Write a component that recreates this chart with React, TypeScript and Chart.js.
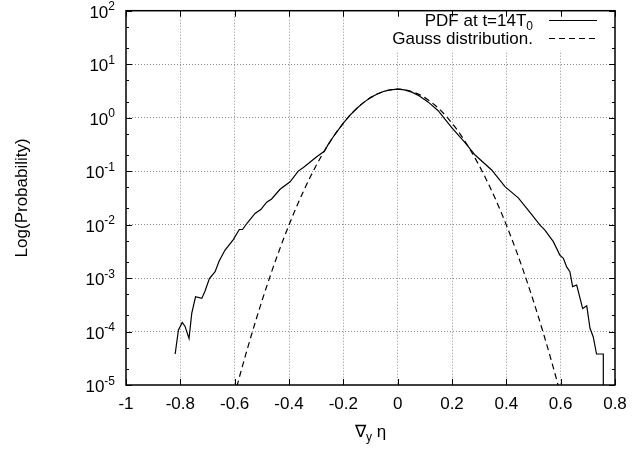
import React, { useEffect, useRef } from 'react';
import { Chart, registerables } from 'chart.js';

Chart.register(...registerables);

// ---- data ----
const pdfX = [
  -0.819, -0.807, -0.793, -0.783, -0.768, -0.758, -0.744, -0.721, -0.709, -0.693,
  -0.672, -0.657, -0.636, -0.605, -0.583, -0.571, -0.554, -0.525, -0.504, -0.482,
  -0.464, -0.433, -0.396, -0.366, -0.347, -0.298, -0.27, -0.255, -0.23, -0.2,
  -0.176, -0.15, -0.127, -0.1, -0.077, -0.05, -0.028, 0, 0.025, 0.052,
  0.08, 0.113, 0.149, 0.199, 0.248, 0.285, 0.346, 0.395, 0.444, 0.487,
  0.524, 0.542, 0.573, 0.597, 0.61, 0.622, 0.634, 0.644, 0.659, 0.681,
  0.696, 0.708, 0.72, 0.732, 0.757, 0.757,
];
const pdfY = [
  3.8e-5, 1.07e-4, 1.48e-4, 1.26e-4, 7.4e-5, 2.19e-4, 4.47e-4, 4.17e-4, 5.75e-4, 9.8e-4,
  1.32e-3, 2.09e-3, 3.31e-3, 5.25e-3, 8.1e-3, 8.1e-3, 1.07e-2, 1.62e-2, 1.91e-2, 2.63e-2,
  3.02e-2, 4.57e-2, 6.31e-2, 0.1, 0.117, 0.186, 0.235, 0.32, 0.494, 0.79,
  1.1, 1.5, 1.89, 2.37, 2.74, 3.11, 3.32, 3.4, 3.3, 3.0,
  2.55, 1.95, 1.35, 0.65, 0.34, 0.2, 0.105, 0.0513, 0.0316, 0.017,
  9.8e-3, 7.9e-3, 4.79e-3, 2.69e-3, 2.34e-3, 1.62e-3, 1.32e-3, 6.9e-4, 7.4e-4, 2.69e-4,
  3.02e-4, 1.15e-4, 7.9e-5, 3.8e-5, 3.8e-5, 1e-6,
];

const gaussX = [
  -0.62, -0.6, -0.58, -0.56, -0.54, -0.52, -0.5, -0.48, -0.46, -0.44, -0.42, -0.4,
  -0.38, -0.36, -0.34, -0.32, -0.3, -0.28, -0.26, -0.24, -0.22, -0.2, -0.18, -0.16,
  -0.14, -0.12, -0.1, -0.08, -0.06, -0.04, -0.02, 0, 0.02, 0.04, 0.06, 0.08, 0.1,
  0.12, 0.14, 0.16, 0.18, 0.2, 0.22, 0.24, 0.26, 0.28, 0.3, 0.32, 0.34, 0.36, 0.38,
  0.4, 0.42, 0.44, 0.46, 0.48, 0.5, 0.52, 0.54, 0.56, 0.58, 0.6, 0.62,
];
const gaussY = [
  2.7e-6, 6.6e-6, 1.57e-5, 3.62e-5, 8.07e-5, 1.75e-4, 3.69e-4, 7.55e-4, 1.5e-3, 2.895e-3, 5.43e-3, 9.88e-3,
  0.01747, 0.03, 0.05, 0.081, 0.1274, 0.1946, 0.2886, 0.416, 0.582, 0.791, 1.044, 1.339,
  1.667, 2.015, 2.367, 2.699, 2.99, 3.216, 3.361, 3.41, 3.361, 3.216, 2.99, 2.699, 2.367,
  2.015, 1.667, 1.339, 1.044, 0.791, 0.582, 0.416, 0.2886, 0.1946, 0.1274, 0.081, 0.05, 0.03, 0.01747,
  9.88e-3, 5.43e-3, 2.895e-3, 1.5e-3, 7.55e-4, 3.69e-4, 1.75e-4, 8.07e-5, 3.62e-5, 1.57e-5, 6.6e-6, 2.7e-6,
];

const xTicks = [-1, -0.8, -0.6, -0.4, -0.2, 0, 0.2, 0.4, 0.6, 0.8];
const xTickLabels = ['-1', '-0.8', '-0.6', '-0.4', '-0.2', '0', '0.2', '0.4', '0.6', '0.8'];
const yTicks = [1e-5, 1e-4, 1e-3, 1e-2, 1e-1, 1, 10, 100];
const yTickExponents = ['-5', '-4', '-3', '-2', '-1', '0', '1', '2'];
const yMinorTicks = [2e-5, 5e-5, 2e-4, 5e-4, 2e-3, 5e-3, 2e-2, 5e-2, 0.2, 0.5, 2, 5, 20, 50];
const seriesNames = ['PDF at t=14T', 'Gauss distribution.'];
const seriesSubscripts = ['0', ''];
const xTitle = ['\u2207', 'y', ' \u03b7'];
const yTitle = 'Log(Probability)';

const FONT = '"Liberation Sans", Arial, Helvetica, sans-serif';

export default function App() {
  const ref = useRef<HTMLCanvasElement | null>(null);

  useEffect(() => {
    const canvas = ref.current;
    if (!canvas) return;

    const decor = {
      id: 'decor',
      afterDraw(chart: any) {
        const ctx = chart.ctx as CanvasRenderingContext2D;
        const ca = chart.chartArea;
        const xs = chart.scales.x;
        const ys = chart.scales.y;
        ctx.save();

        // key background (hides grid behind key)
        ctx.fillStyle = '#ffffff';
        ctx.fillRect(385, ca.top + 1, ca.right - 387, 39);

        // border
        ctx.strokeStyle = '#000';
        ctx.lineWidth = 1.5;
        ctx.setLineDash([]);
        ctx.strokeRect(ca.left, ca.top, ca.right - ca.left, ca.bottom - ca.top);

        // inward ticks
        ctx.lineWidth = 1;
        ctx.beginPath();
        xTicks.forEach((v) => {
          const p = Math.round(xs.getPixelForValue(v)) + 0.5;
          ctx.moveTo(p, ca.bottom);
          ctx.lineTo(p, ca.bottom - 6);
          ctx.moveTo(p, ca.top);
          ctx.lineTo(p, ca.top + 6);
        });
        yTicks.forEach((v) => {
          const p = Math.round(ys.getPixelForValue(v)) + 0.5;
          ctx.moveTo(ca.left, p);
          ctx.lineTo(ca.left + 6, p);
          ctx.moveTo(ca.right, p);
          ctx.lineTo(ca.right - 6, p);
        });
        yMinorTicks.forEach((v) => {
          const p = Math.round(ys.getPixelForValue(v)) + 0.5;
          ctx.moveTo(ca.left, p);
          ctx.lineTo(ca.left + 3, p);
          ctx.moveTo(ca.right, p);
          ctx.lineTo(ca.right - 3, p);
        });
        ctx.stroke();

        // y tick labels 10^n
        ctx.fillStyle = '#000';
        ctx.textBaseline = 'alphabetic';
        yTicks.forEach((v, i) => {
          const p = ys.getPixelForValue(v);
          ctx.font = `12px ${FONT}`;
          const ew = ctx.measureText(yTickExponents[i]).width;
          const right = ca.left - 11;
          ctx.textAlign = 'left';
          ctx.fillText(yTickExponents[i], right - ew, p - 0.5);
          ctx.font = `17px ${FONT}`;
          ctx.textAlign = 'right';
          ctx.fillText('10', right - ew, p + 7);
        });

        // y title
        ctx.save();
        ctx.translate(27, (ca.top + ca.bottom) / 2);
        ctx.rotate(-Math.PI / 2);
        ctx.font = `17px ${FONT}`;
        ctx.textAlign = 'center';
        ctx.fillText(yTitle, 0, 0);
        ctx.restore();

        // x title with subscript
        ctx.textAlign = 'left';
        ctx.font = `17px ${FONT}`;
        const w0 = ctx.measureText(xTitle[0]).width;
        const w2 = ctx.measureText(xTitle[2]).width;
        ctx.font = `12px ${FONT}`;
        const w1 = ctx.measureText(xTitle[1]).width;
        const total = w0 + w1 + w2;
        let tx = (ca.left + ca.right) / 2 - total / 2;
        const ty = 437;
        ctx.font = `17px ${FONT}`;
        ctx.fillText(xTitle[0], tx, ty);
        tx += w0;
        ctx.font = `12px ${FONT}`;
        ctx.fillText(xTitle[1], tx, ty + 4);
        tx += w1;
        ctx.font = `17px ${FONT}`;
        ctx.fillText(xTitle[2], tx, ty);

        // key
        const rowsY = [20, 38];
        const textRight = 533;
        chart.data.datasets.forEach((ds: any, i: number) => {
          const cy = rowsY[i];
          const sub = seriesSubscripts[i];
          ctx.font = `12px ${FONT}`;
          const sw = sub ? ctx.measureText(sub).width : 0;
          if (sub) {
            ctx.textAlign = 'left';
            ctx.fillText(sub, textRight - sw, cy + 10);
          }
          ctx.font = `17px ${FONT}`;
          ctx.textAlign = 'right';
          ctx.fillText(seriesNames[i], textRight - sw, cy + 6);
          ctx.beginPath();
          ctx.strokeStyle = '#000';
          ctx.lineWidth = 1;
          ctx.setLineDash(ds.borderDash || []);
          ctx.moveTo(549, cy + 0.5);
          ctx.lineTo(597, cy + 0.5);
          ctx.stroke();
          ctx.setLineDash([]);
        });

        ctx.restore();
      },
    };

    const chart = new Chart(canvas, {
      type: 'scatter',
      data: {
        datasets: [
          {
            label: seriesNames[0],
            data: pdfX.map((x, i) => ({ x, y: pdfY[i] })),
            showLine: true,
            borderColor: '#000',
            borderWidth: 1.2,
            pointRadius: 0,
            tension: 0,
          },
          {
            label: seriesNames[1],
            data: gaussX.map((x, i) => ({ x, y: gaussY[i] })),
            showLine: true,
            borderColor: '#000',
            borderWidth: 1.2,
            borderDash: [6, 4],
            pointRadius: 0,
            tension: 0,
          },
        ],
      },
      options: {
        animation: false,
        responsive: false,
        maintainAspectRatio: false,
        devicePixelRatio: 1,
        layout: { padding: { left: 0, right: 29, top: 10.7, bottom: 0 } },
        plugins: { legend: { display: false }, tooltip: { enabled: false }, title: { display: false } },
        scales: {
          x: {
            type: 'linear',
            min: -1,
            max: 0.8,
            afterBuildTicks: (s: any) => {
              s.ticks = xTicks.map((v) => ({ value: v }));
            },
            afterFit: (s: any) => {
              s.height = 64;
            },
            ticks: {
              color: '#000',
              font: { family: FONT, size: 17 },
              padding: 9,
              maxRotation: 0,
              autoSkip: false,
              callback: (_v: any, i: number) => xTickLabels[i],
            },
            grid: {
              drawTicks: false,
              lineWidth: 1,
              color: (c: any) => {
                const v = c.tick ? c.tick.value : 0;
                return v <= -0.999 || v >= 0.799 ? 'rgba(0,0,0,0)' : '#8c8c8c';
              },
            },
            border: { display: false, dash: [1, 2] },
          },
          y: {
            type: 'logarithmic',
            min: 1e-5,
            max: 100,
            afterBuildTicks: (s: any) => {
              s.ticks = yTicks.map((v) => ({ value: v }));
            },
            afterFit: (s: any) => {
              s.width = 126;
            },
            ticks: { display: false },
            grid: {
              drawTicks: false,
              lineWidth: 1,
              color: (c: any) => {
                const v = c.tick ? c.tick.value : 1;
                return v <= 1.0001e-5 || v >= 99.9 ? 'rgba(0,0,0,0)' : '#8c8c8c';
              },
            },
            border: { display: false, dash: [1, 2] },
          },
        },
      },
      plugins: [decor],
    } as any);

    return () => chart.destroy();
  }, []);

  return (
    <div style={{ position: 'fixed', left: 0, top: 0, width: 644, height: 449, background: '#fff' }}>
      <canvas ref={ref} width={644} height={449} style={{ width: 644, height: 449, display: 'block' }} />
    </div>
  );
}
